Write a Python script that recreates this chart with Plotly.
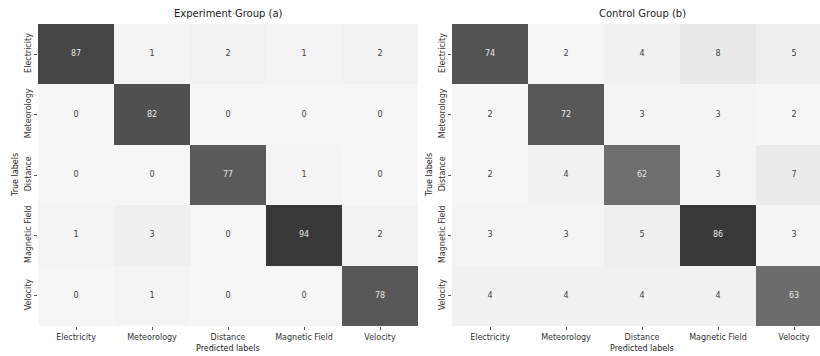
import plotly.graph_objects as go

# Class names shared by both confusion matrices
labels = ["Electricity", "Meteorology", "Distance", "Magnetic Field", "Velocity"]

# Rows = true label, columns = predicted label
experiment_counts = [
    [87, 1, 2, 1, 2],
    [0, 82, 0, 0, 0],
    [0, 0, 77, 1, 0],
    [1, 3, 0, 94, 2],
    [0, 1, 0, 0, 78],
]
control_counts = [
    [74, 2, 4, 8, 5],
    [2, 72, 3, 3, 2],
    [2, 4, 62, 3, 7],
    [3, 3, 5, 86, 3],
    [4, 4, 4, 4, 63],
]
panel_titles = ["Experiment Group (a)", "Control Group (b)"]

W, H = 820, 356
FONT = "DejaVu Sans"
grey_scale = [[0.0, "#f6f6f6"], [1.0, "#383838"]]

fig = go.Figure()

panels = [
    (experiment_counts, (38, 418), "x", "y"),
    (control_counts, (452, 832), "x2", "y2"),
]
top_px, bottom_px = 24, 326
ydom = [1 - bottom_px / H, 1 - top_px / H]

for i, (mat, (x0, x1), xa, ya) in enumerate(panels):
    flat = [v for row in mat for v in row]
    zmin, zmax = min(flat), max(flat)
    fig.add_trace(go.Heatmap(
        z=mat, x=labels, y=labels, xaxis=xa, yaxis=ya,
        colorscale=grey_scale, zmin=zmin, zmax=zmax, showscale=False,
        hoverinfo="skip",
    ))
    # cell annotations: light text on dark cells, dark text on light cells
    xs, ys, txt, cols = [], [], [], []
    mid = zmin + 0.5 * (zmax - zmin)
    for r, row in enumerate(mat):
        for c, v in enumerate(row):
            xs.append(labels[c])
            ys.append(labels[r])
            txt.append(str(v))
            cols.append("#e6e6e6" if v > mid else "#3f3f3f")
    fig.add_trace(go.Scatter(
        x=xs, y=ys, text=txt, mode="text", xaxis=xa, yaxis=ya,
        textfont=dict(family=FONT, size=8, color=cols),
        hoverinfo="skip", showlegend=False,
    ))

    # the right panel runs past the page edge, so clip its last column
    visible_px = min(x1, W)
    cell_w = (x1 - x0) / 5
    xmax = -0.5 + (visible_px - x0) / cell_w
    axis_kw = dict(
        ticks="outside", ticklen=3, tickwidth=1, tickcolor="#555",
        showgrid=False, zeroline=False, showline=False,
        tickfont=dict(family=FONT, size=8, color="#333"),
    )
    xname = "xaxis" if i == 0 else "xaxis2"
    yname = "yaxis" if i == 0 else "yaxis2"
    fig.layout[xname] = dict(
        domain=[x0 / W, visible_px / W], anchor=ya,
        range=[-0.5, xmax], type="category", **axis_kw,
    )
    fig.layout[yname] = dict(
        domain=ydom, anchor=xa, range=[4.5, -0.5], type="category",
        tickangle=-90, **axis_kw,
    )

    cx = (x0 + x1) / 2 / W
    fig.add_annotation(
        text=panel_titles[i], x=cx, y=1 - 14 / H, xref="paper", yref="paper",
        showarrow=False, font=dict(family=FONT, size=10, color="#222"),
        xanchor="center", yanchor="middle",
    )
    fig.add_annotation(
        text="Predicted labels", x=cx, y=1 - 348 / H, xref="paper", yref="paper",
        showarrow=False, font=dict(family=FONT, size=8, color="#222"),
        xanchor="center", yanchor="middle",
    )
    fig.add_annotation(
        text="True labels", x=(x0 - 23) / W, y=1 - 175 / H, xref="paper",
        yref="paper", showarrow=False, textangle=-90,
        font=dict(family=FONT, size=8, color="#222"),
        xanchor="center", yanchor="middle",
    )

fig.update_layout(
    width=W, height=H,
    margin=dict(l=0, r=0, t=0, b=0),
    paper_bgcolor="white", plot_bgcolor="white",
    showlegend=False,
)

fig.write_html("out.html")
